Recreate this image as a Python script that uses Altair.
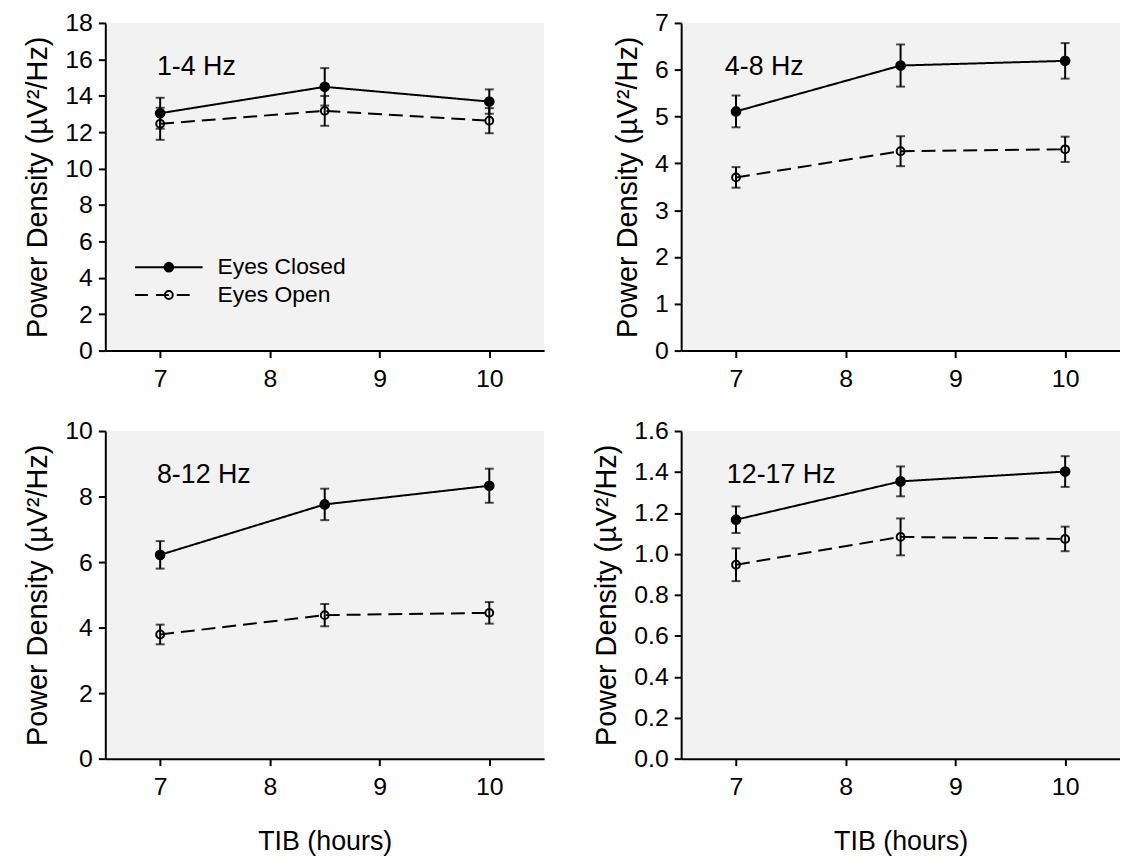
import altair as alt
import pandas as pd

# ---------------- data ----------------
tib = [7, 8.5, 10]

ec_1_4 = [13.04, 14.49, 13.68]
ec_1_4_se = [0.85, 1.03, 0.67]
eo_1_4 = [12.46, 13.17, 12.63]
eo_1_4_se = [0.88, 0.82, 0.69]

ec_4_8 = [5.11, 6.09, 6.19]
ec_4_8_se = [0.34, 0.45, 0.38]
eo_4_8 = [3.70, 4.26, 4.30]
eo_4_8_se = [0.22, 0.32, 0.27]

ec_8_12 = [6.22, 7.76, 8.33]
ec_8_12_se = [0.42, 0.48, 0.52]
eo_8_12 = [3.79, 4.38, 4.45]
eo_8_12_se = [0.30, 0.34, 0.33]

ec_12_17 = [1.167, 1.354, 1.402]
ec_12_17_se = [0.065, 0.073, 0.075]
eo_12_17 = [0.947, 1.083, 1.073]
eo_12_17_se = [0.08, 0.09, 0.06]

bands = ["1-4 Hz", "4-8 Hz", "8-12 Hz", "12-17 Hz"]
y_max = [18, 7, 10, 1.6]
y_ticks = [[0, 2, 4, 6, 8, 10, 12, 14, 16, 18],
           [0, 1, 2, 3, 4, 5, 6, 7],
           [0, 2, 4, 6, 8, 10],
           [0.0, 0.2, 0.4, 0.6, 0.8, 1.0, 1.2, 1.4, 1.6]]
y_fmt = ["d", "d", "d", ".1f"]
x_ticks = [7, 8, 9, 10]
series = ["Eyes Closed", "Eyes Open"]

FONT = "Liberation Sans"
W, H = 442, 330
YTITLE = "Power Density (µV²/Hz)"


def frame(ec, ec_se, eo, eo_se):
    rows = []
    for name, vals, ses in ((series[0], ec, ec_se), (series[1], eo, eo_se)):
        for t, v, s in zip(tib, vals, ses):
            rows.append({"tib": t, "power": v, "lo": v - s, "hi": v + s, "series": name})
    return pd.DataFrame(rows)


datasets = [
    frame(ec_1_4, ec_1_4_se, eo_1_4, eo_1_4_se),
    frame(ec_4_8, ec_4_8_se, eo_4_8, eo_4_8_se),
    frame(ec_8_12, ec_8_12_se, eo_8_12, eo_8_12_se),
    frame(ec_12_17, ec_12_17_se, eo_12_17, eo_12_17_se),
]

FILLED = 115
OPEN = 62


def panel(i, x_title, legend, label_x):
    df = datasets[i]
    xs = alt.Scale(domain=[6.5, 10.5], nice=False, zero=False)
    ys = alt.Scale(domain=[0, y_max[i]], nice=False)
    xax = alt.Axis(values=x_ticks, title=x_title, format="d", labelPadding=9,
                   titlePadding=29, titleFontSize=27)
    yax = alt.Axis(values=y_ticks[i], format=y_fmt[i], title=YTITLE, titleFontSize=29)
    x = alt.X("tib:Q", scale=xs, axis=xax)
    y = alt.Y("power:Q", scale=ys, axis=yax)
    dash = alt.StrokeDash("series:N", scale=alt.Scale(domain=series, range=[[1, 0], [14, 7]]),
                          legend=None)

    base = alt.Chart(df)
    bars = base.mark_rule(color="black", strokeWidth=2).encode(
        x=x, y=alt.Y("lo:Q", scale=ys, axis=yax), y2="hi:Q")
    cap_hi = base.mark_tick(color="black", orient="horizontal", size=9, thickness=2).encode(
        x=x, y=alt.Y("hi:Q", scale=ys, axis=yax))
    cap_lo = base.mark_tick(color="black", orient="horizontal", size=9, thickness=2).encode(
        x=x, y=alt.Y("lo:Q", scale=ys, axis=yax))
    lines = base.mark_line(color="black", strokeWidth=2).encode(
        x=x, y=y, strokeDash=dash, detail="series:N")
    closed = base.transform_filter(alt.datum.series == series[0]).mark_point(
        shape="circle", filled=True, color="black", size=FILLED, opacity=1).encode(x=x, y=y)
    opened = base.transform_filter(alt.datum.series == series[1]).mark_point(
        shape="circle", filled=False, color="black", size=OPEN, strokeWidth=2,
        opacity=1).encode(x=x, y=y)

    one = alt.Data(values=[{"k": 1}])
    label = alt.Chart(one).mark_text(align="left", baseline="alphabetic", fontSize=27,
                                     font=FONT, color="black").encode(
        x=alt.value(label_x), y=alt.value(52), text=alt.value(bands[i]))

    layers = [bars, cap_hi, cap_lo, lines, closed, opened, label]

    if legend:
        leg_ec_line = alt.Chart(one).mark_rule(color="black", strokeWidth=2).encode(
            x=alt.value(30), x2=alt.value(98), y=alt.value(246))
        leg_ec_pt = alt.Chart(one).mark_point(shape="circle", filled=True, color="black",
                                              size=FILLED, opacity=1).encode(
            x=alt.value(64), y=alt.value(246))
        leg_ec_txt = alt.Chart(one).mark_text(align="left", baseline="middle", fontSize=23,
                                              font=FONT, color="black").encode(
            x=alt.value(113), y=alt.value(246), text=alt.value(series[0]))
        leg_eo_line = alt.Chart(one).mark_rule(color="black", strokeWidth=2,
                                               strokeDash=[13, 8]).encode(
            x=alt.value(30), x2=alt.value(92), y=alt.value(274))
        leg_eo_pt = alt.Chart(one).mark_point(shape="circle", filled=False, color="black",
                                              size=OPEN, strokeWidth=2, opacity=1).encode(
            x=alt.value(64), y=alt.value(274))
        leg_eo_txt = alt.Chart(one).mark_text(align="left", baseline="middle", fontSize=23,
                                              font=FONT, color="black").encode(
            x=alt.value(113), y=alt.value(274), text=alt.value(series[1]))
        layers += [leg_ec_line, leg_ec_pt, leg_ec_txt, leg_eo_line, leg_eo_pt, leg_eo_txt]

    return alt.layer(*layers).properties(width=W, height=H)


p1 = panel(0, None, True, 52)
p2 = panel(1, None, False, 44)
p3 = panel(2, "TIB (hours)", False, 52)
p4 = panel(3, "TIB (hours)", False, 46)

chart = alt.concat(
    p1, p2, p3, p4, columns=2,
    spacing=alt.RowColnumber(row=81, column=138), bounds="flush"
).properties(
    padding={"left": 16, "top": 0, "right": 0, "bottom": 0}, background="white"
).configure_view(
    fill="#f2f2f2", stroke=None
).configure_axis(
    grid=False,
    domainColor="black", domainWidth=2,
    tickColor="black", tickWidth=2, tickSize=7,
    labelColor="black", labelFont=FONT, labelFontSize=25,
    titleColor="black", titleFont=FONT, titleFontWeight="normal",
    labelPadding=6, titlePadding=12,
)

chart.save("out.html", embed_options={"renderer": "svg", "actions": False})
